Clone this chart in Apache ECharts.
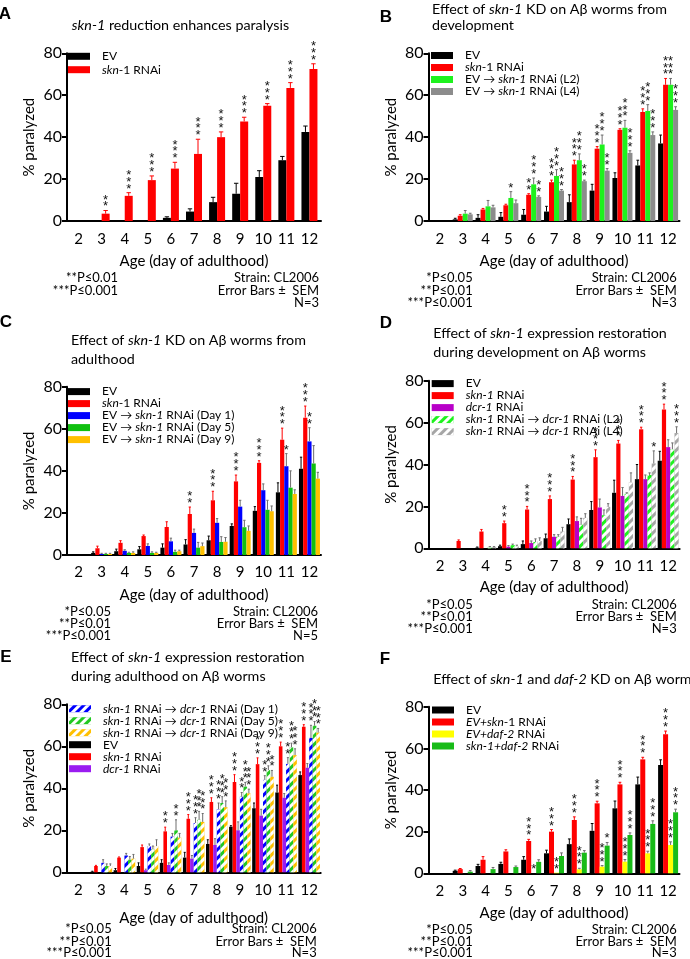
<!DOCTYPE html>
<html><head><meta charset="utf-8">
<script src="https://cdn.jsdelivr.net/npm/echarts@6/dist/echarts.min.js"></script>
<style>html,body{margin:0;padding:0;background:#fff}#c{width:690px;height:959px}</style>
</head><body><div id="c"></div>
<script>
// ---------- shared ----------
const days = ['2','3','4','5','6','7','8','9','10','11','12'];
const yTickValues = [0, 20, 40, 60, 80];

// ---------- Panel A ----------
const A_EV      = [0, 0, 0.3, 0.3, 1.5, 4.5, 9, 13, 21, 29, 42.5];
const A_EV_err  = [0, 0, 0, 0, 0.5, 1.3, 2.3, 5, 3, 1.8, 2.8];
const A_EV_sig  = [0,0,0,0,0,0,0,0,0,0,0];
const A_skn     = [0, 3.5, 12, 19.5, 25, 32, 40, 47.5, 55, 63.5, 72.5];
const A_skn_err = [0, 1.5, 1.5, 2, 3, 7, 2.5, 2, 1, 2.5, 2.5];
const A_skn_sig = [0, 2, 3, 3, 3, 3, 3, 3, 3, 3, 3];

// ---------- Panel B ----------
const B_EV      = [0, 0.8, 1.5, 2, 3, 4.5, 9, 14.5, 20.5, 26.5, 37];
const B_EV_err  = [0, 0.5, 1.5, 2, 2.5, 2.5, 3.5, 3, 2.5, 2.5, 4];
const B_EV_sig  = [0,0,0,0,0,0,0,0,0,0,0];
const B_skn     = [0, 2.5, 5.5, 7.5, 12.5, 18.5, 27, 34.5, 43.5, 52, 65];
const B_skn_err = [0, 0.5, 0.5, 0.5, 0.5, 1, 2, 1, 0.5, 1.5, 3];
const B_skn_sig = [0, 0, 0, 0, 2, 3, 3, 3, 3, 3, 3];
const B_L2      = [0, 3.5, 7, 11, 17.5, 21.5, 29, 36.5, 44.5, 52.5, 65];
const B_L2_err  = [0, 1.5, 2.8, 3, 3, 3, 3, 4.5, 3.5, 3, 3];
const B_L2_sig  = [0, 0, 0, 1, 3, 3, 3, 3, 3, 3, 3];
const B_L4      = [0, 3.2, 6.5, 8.5, 11.5, 14.5, 19, 24, 32.5, 41, 53];
const B_L4_err  = [0, 0.5, 1, 1.5, 0.5, 0.5, 0.5, 1, 1, 1.5, 1.5];
const B_L4_sig  = [0, 0, 0, 0, 2, 3, 2, 2, 3, 3, 3];

// ---------- Panel C ----------
const C_EV      = [0, 1, 1.8, 2.7, 3.5, 5, 7, 13.8, 21, 29.8, 41];
const C_EV_err  = [0, 0.5, 1, 1.3, 1.8, 2.3, 2, 1, 2, 4.5, 5.5];
const C_EV_sig  = [0,0,0,0,0,0,0,0,0,0,0];
const C_skn     = [0, 3.2, 5.8, 9, 13.3, 19.5, 26, 35, 43.8, 54.8, 65.3];
const C_skn_err = [0, 1, 1, 0.5, 2.5, 3.3, 4.3, 3, 1, 5.5, 5.5];
const C_skn_sig = [0, 0, 0, 0, 0, 2, 3, 3, 3, 3, 3];
const C_d1      = [0, 0.5, 2, 4.3, 6.5, 10.5, 15.3, 23, 30.8, 42.2, 54];
const C_d1_err  = [0, 0.3, 0.5, 1, 1.5, 1.8, 2, 3, 3, 6, 6.5];
const C_d1_sig  = [0, 0, 0, 0, 0, 0, 0, 0, 0, 1, 2];
const C_d5      = [0, 0.5, 1, 1, 1.5, 3.5, 6.2, 13.2, 21.5, 32, 43.5];
const C_d5_err  = [0, 0.3, 0.3, 0.5, 0.8, 2.5, 2.5, 3.3, 4.5, 8, 8.5];
const C_d5_sig  = [0,0,0,0,0,0,0,0,0,0,0];
const C_d9      = [0, 0.5, 1, 1, 1.8, 4.2, 6.3, 11.5, 20.8, 29, 36.3];
const C_d9_err  = [0, 0.3, 0.5, 0.3, 0.5, 1.5, 2, 2.3, 2.5, 2, 3];
const C_d9_sig  = [0,0,0,0,0,0,0,0,0,0,0];

// ---------- Panel D ----------
const D_EV      = [0, 0, 0.3, 1, 2, 4.8, 11.5, 18.3, 26.5, 33, 41.8];
const D_EV_err  = [0, 0, 0.3, 0.5, 1.5, 2, 2.5, 4, 6, 7, 4.5];
const D_EV_sig  = [0,0,0,0,0,0,0,0,0,0,0];
const D_skn     = [0, 3.5, 8, 12, 18.5, 23.5, 32.8, 43.5, 50, 56.8, 66.3];
const D_skn_err = [0, 0.5, 1, 1, 1.5, 1.5, 1.5, 3.5, 1.5, 1, 2.5];
const D_skn_sig = [0, 0, 0, 2, 3, 3, 3, 3, 3, 3, 3];
const D_dcr     = [0, 0, 0, 0.8, 2.5, 5.5, 13, 19.5, 25, 33, 48.3];
const D_dcr_err = [0, 0, 0, 0.5, 1, 1, 2, 4, 4, 2, 3.5];
const D_dcr_sig = [0,0,0,0,0,0,0,0,0,0,0];
const D_L2      = [0, 0, 0.5, 1.5, 3, 5.5, 11.3, 15.8, 26, 35, 47.3];
const D_L2_err  = [0, 0, 0.3, 0.5, 1.5, 1, 3, 2.5, 0.5, 1, 3];
const D_L2_sig  = [0,0,0,0,0,0,0,0,0,0,0];
const D_L4      = [0, 0, 0.5, 1, 3.5, 8, 14.5, 19.8, 31.5, 40.5, 55];
const D_L4_err  = [0, 0, 0.3, 0.5, 1.5, 2, 2, 1.5, 4.5, 6, 3];
const D_L4_sig  = [0, 0, 0, 0, 0, 0, 0, 0, 0, 1, 3];

// ---------- Panel E ----------
const E_EV      = [0, 0.3, 1, 3, 4.5, 7, 13.5, 21.7, 30.5, 38, 46.3];
const E_EV_err  = [0, 0.2, 0.8, 1.5, 1.5, 2.5, 2, 0.5, 2.5, 3.5, 1.5];
const E_EV_sig  = [0,0,0,0,0,0,0,0,0,0,0];
const E_skn     = [0, 3, 7, 12, 19.5, 25.5, 33.5, 43, 51.5, 60, 69.3];
const E_skn_err = [0, 0.3, 0.3, 1, 2, 2, 2, 3.5, 3, 2, 1];
const E_skn_sig = [0, 0, 0, 0, 2, 3, 3, 3, 3, 3, 3];
const E_dcr     = [0, 0, 0, 1, 3.5, 6.5, 13, 20, 27, 35.5, 49.8];
const E_dcr_err = [0, 0, 0, 0.5, 1, 1.5, 3, 4, 3, 2, 2];
const E_dcr_sig = [0,0,0,0,0,0,0,0,0,0,0];
const E_d1      = [0, 4.5, 8, 12.5, 17, 23.5, 30, 36, 44, 51.6, 64];
const E_d1_err  = [0, 1.5, 1, 1, 1.5, 2.5, 3, 2, 2, 3, 6];
const E_d1_sig  = [0, 0, 0, 0, 0, 3, 3, 2, 2, 2, 3];
const E_d5      = [0, 3, 6, 11, 20, 25, 33, 40.8, 48.7, 59.5, 69.8];
const E_d5_err  = [0, 1, 1.5, 1.5, 5, 4, 3, 2, 2, 2, 2];
const E_d5_sig  = [0, 0, 0, 0, 2, 3, 3, 3, 3, 3, 3];
const E_d9      = [0, 3, 6.5, 12.5, 16.5, 24, 31, 37.6, 45.5, 55.8, 66.5];
const E_d9_err  = [0, 1, 2, 3, 2, 4, 3, 2, 3, 3, 2];
const E_d9_sig  = [0, 0, 0, 0, 0, 3, 3, 3, 2, 3, 3];

// ---------- Panel F ----------
const F_EV      = [0, 1.2, 3.5, 4.5, 6.5, 9.6, 14, 20.4, 31.2, 42.7, 52];
const F_EV_err  = [0, 0.3, 0.8, 0.8, 1.5, 1.5, 2.5, 3.5, 3.5, 3.5, 2.5];
const F_EV_sig  = [0,0,0,0,0,0,0,0,0,0,0];
const F_skn     = [0, 2, 6.5, 10.5, 15.5, 20, 25.6, 33.6, 42.7, 54.7, 66.8];
const F_skn_err = [0, 0.3, 1.5, 0.8, 0.8, 1, 1.5, 1, 1, 1, 1.5];
const F_skn_sig = [0, 0, 0, 0, 3, 3, 3, 3, 3, 3, 3];
const F_daf     = [0, 0, 0, 0, 0, 0.3, 1.9, 3.2, 5.6, 9.6, 13.6];
const F_daf_err = [0, 0, 0, 0, 0, 0, 0.5, 0.5, 1, 1, 1.5];
const F_daf_sig = [0, 0, 0, 0, 1, 2, 3, 3, 3, 3, 3];
const F_both    = [0, 0.8, 2, 3, 5.5, 8.3, 9.9, 13.3, 18.4, 23.7, 29.3];
const F_both_err= [0, 0.5, 0.8, 0.5, 1, 1.5, 1, 1.5, 1, 1.5, 1.5];
const F_both_sig= [0, 0, 0, 0, 0, 0, 0, 1, 3, 3, 3];

// ---------- styling ----------
const FF = "Lato, 'Noto Sans', 'DejaVu Sans', sans-serif";
const hatch = { symbol: 'rect', symbolSize: 1, dashArrayX: [1, 0], dashArrayY: [2.4, 2.4], rotation: -Math.PI / 4, color: '#ffffff' };
const GRAYERR = '#6e6e6e';
const TITLE_FS = 14.3, LEG_FS = 12, FOOT_FS = 13;

const panels = [
  { grid: {left: 67, top: 53.3, width: 254, height: 167.7}, barW: 8, lab: 11, nameGap: 33,
    legend: {left: 68, top: 49.6, pitch: 13.4},
    series: [
      {id:'A_EV', label:'{sp|}EV', color:'#000000', ec:'#000000', d:A_EV, e:A_EV_err, s:A_EV_sig},
      {id:'A_skn', label:'{sp|}{i|skn}-1 RNAi', color:'#ff0000', ec:'#ff0000', d:A_skn, e:A_skn_err, s:A_skn_sig}
    ]},
  { grid: {left: 428.5, top: 53.3, width: 251, height: 167.7}, barW: 5, lab: 11, nameGap: 33,
    legend: {left: 431, top: 49.5, pitch: 11},
    series: [
      {id:'B_EV', label:'{sp|}EV', color:'#000000', ec:'#000000', d:B_EV, e:B_EV_err, s:B_EV_sig},
      {id:'B_skn', label:'{sp|}{i|skn}-1 RNAi', color:'#ff0000', ec:'#ff0000', d:B_skn, e:B_skn_err, s:B_skn_sig},
      {id:'B_L2', label:'{sp|}EV → {i|skn-1} RNAi (L2)', color:'#1ef21e', ec:GRAYERR, d:B_L2, e:B_L2_err, s:B_L2_sig},
      {id:'B_L4', label:'{sp|}EV → {i|skn-1} RNAi (L4)', color:'#8c8c8c', ec:GRAYERR, d:B_L4, e:B_L4_err, s:B_L4_sig}
    ]},
  { grid: {left: 67, top: 386.7, width: 254, height: 168.3}, barW: 4.2, lab: 10, nameGap: 32.5,
    legend: {left: 68, top: 385.6, pitch: 10.1},
    series: [
      {id:'C_EV', label:'{sp|}EV', color:'#000000', ec:'#000000', d:C_EV, e:C_EV_err, s:C_EV_sig},
      {id:'C_skn', label:'{sp|}{i|skn}-1 RNAi', color:'#ff0000', ec:'#ff0000', d:C_skn, e:C_skn_err, s:C_skn_sig},
      {id:'C_d1', label:'{sp|}EV → {i|skn-1} RNAi (Day 1)', color:'#0000ff', ec:GRAYERR, d:C_d1, e:C_d1_err, s:C_d1_sig},
      {id:'C_d5', label:'{sp|}EV → {i|skn-1} RNAi (Day 5)', color:'#10c010', ec:GRAYERR, d:C_d5, e:C_d5_err, s:C_d5_sig},
      {id:'C_d9', label:'{sp|}EV → {i|skn-1} RNAi (Day 9)', color:'#ffc000', ec:GRAYERR, d:C_d9, e:C_d9_err, s:C_d9_sig}
    ]},
  { grid: {left: 428.6, top: 380.7, width: 251, height: 167.6}, barW: 4.2, lab: 10, nameGap: 31,
    legend: {left: 431.7, top: 377.6, pitch: 9.4},
    series: [
      {id:'D_EV', label:'{sp|}EV', color:'#000000', ec:'#000000', d:D_EV, e:D_EV_err, s:D_EV_sig},
      {id:'D_skn', label:'{sp|}{i|skn-1} RNAi', color:'#ff0000', ec:'#ff0000', d:D_skn, e:D_skn_err, s:D_skn_sig},
      {id:'D_dcr', label:'{sp|}{i|dcr-1} RNAi', color:'#b800c8', ec:GRAYERR, d:D_dcr, e:D_dcr_err, s:D_dcr_sig},
      {id:'D_L2', label:'{sp|}{i|skn-1} RNAi → {i|dcr-1} RNAi (L2)', color:'#1ef21e', decal:hatch, ec:GRAYERR, d:D_L2, e:D_L2_err, s:D_L2_sig},
      {id:'D_L4', label:'{sp|}{i|skn-1} RNAi → {i|dcr-1} RNAi (L4)', color:'#a6a6a6', decal:hatch, ec:GRAYERR, d:D_L4, e:D_L4_err, s:D_L4_sig}
    ]},
  { grid: {left: 66.7, top: 704.3, width: 254, height: 168}, barW: 3.6, lab: 10, nameGap: 38,
    legend: {left: 69, top: 702.7, pitch: 10},
    legendOrder: ['E_d1','E_d5','E_d9','E_EV','E_skn','E_dcr'],
    series: [
      {id:'E_EV', label:'{sp|}EV', color:'#000000', ec:'#000000', d:E_EV, e:E_EV_err, s:E_EV_sig},
      {id:'E_skn', label:'{sp|}{i|skn-1} RNAi', color:'#ff0000', ec:'#ff0000', d:E_skn, e:E_skn_err, s:E_skn_sig},
      {id:'E_dcr', label:'{sp|}{i|dcr-1} RNAi', color:'#9a1cf0', ec:GRAYERR, d:E_dcr, e:E_dcr_err, s:E_dcr_sig},
      {id:'E_d1', label:'{sp|}{i|skn-1} RNAi → {i|dcr-1} RNAi (Day 1)', color:'#0000ff', decal:hatch, ec:GRAYERR, d:E_d1, e:E_d1_err, s:E_d1_sig},
      {id:'E_d5', label:'{sp|}{i|skn-1} RNAi → {i|dcr-1} RNAi (Day 5)', color:'#22c822', decal:hatch, ec:GRAYERR, d:E_d5, e:E_d5_err, s:E_d5_sig},
      {id:'E_d9', label:'{sp|}{i|skn-1} RNAi → {i|dcr-1} RNAi (Day 9)', color:'#ffc000', decal:hatch, ec:GRAYERR, d:E_d9, e:E_d9_err, s:E_d9_sig}
    ]},
  { grid: {left: 428.5, top: 706.7, width: 251, height: 166.6}, barW: 5, lab: 10, nameGap: 32.5,
    legend: {left: 432, top: 704, pitch: 10.1},
    series: [
      {id:'F_EV', label:'{sp|}EV', color:'#000000', ec:'#000000', d:F_EV, e:F_EV_err, s:F_EV_sig},
      {id:'F_skn', label:'{sp|}{i|EV+skn}-1 RNAi', color:'#ff0000', ec:'#ff0000', d:F_skn, e:F_skn_err, s:F_skn_sig},
      {id:'F_daf', label:'{sp|}{i|EV+daf-2} RNAi', color:'#ffff00', ec:GRAYERR, d:F_daf, e:F_daf_err, s:F_daf_sig},
      {id:'F_both', label:'{sp|}{i|skn-1+daf-2} RNAi', color:'#18bb18', ec:GRAYERR, d:F_both, e:F_both_err, s:F_both_sig}
    ]}
];

const labelMap = {};
panels.forEach(p => p.series.forEach(s => { labelMap[s.id] = s.label; }));

function makeRender(n, idx, barW, ec) {
  return function (params, api) {
    const cat = api.value(0), v = api.value(1), e = api.value(2), s = api.value(3);
    const base = api.coord([cat, v]);
    const top = api.coord([cat, v + e]);
    const cx = base[0] - n * barW / 2 + idx * barW + barW / 2;
    const children = [];
    if (e > 0) {
      const cw = Math.max(2, barW * 0.55);
      children.push({ type: 'line', shape: { x1: cx, y1: base[1], x2: cx, y2: top[1] }, style: { stroke: ec, lineWidth: 1 } });
      children.push({ type: 'line', shape: { x1: cx - cw / 2, y1: top[1], x2: cx + cw / 2, y2: top[1] }, style: { stroke: ec, lineWidth: 1 } });
    }
    for (let k = 0; k < s; k++) {
      children.push({ type: 'text', x: cx, y: top[1] - 3.6 - k * 6.8,
        style: { text: '*', fill: '#111', font: "13px 'Liberation Sans', Arial, sans-serif", align: 'center', verticalAlign: 'middle' } });
    }
    return { type: 'group', children };
  };
}

const option = { animation: false, grid: [], xAxis: [], yAxis: [], series: [], legend: [], graphic: [] };

panels.forEach((p, i) => {
  option.grid.push(Object.assign({ containLabel: false }, p.grid));
  option.xAxis.push({
    type: 'category', gridIndex: i, data: days,
    axisLine: { lineStyle: { color: '#000', width: 2 } },
    axisTick: { alignWithLabel: true, interval: 0, length: 4, lineStyle: { color: '#000', width: 1.5 } },
    axisLabel: { interval: 0, color: '#000', fontSize: 15, fontFamily: FF, margin: p.lab },
    name: 'Age (day of adulthood)', nameLocation: 'middle', nameGap: p.nameGap,
    nameTextStyle: { color: '#000', fontSize: 15, fontFamily: FF }
  });
  option.yAxis.push({
    type: 'value', gridIndex: i, min: yTickValues[0], max: yTickValues[yTickValues.length - 1],
    interval: yTickValues[1] - yTickValues[0], splitLine: { show: false },
    axisLine: { show: true, lineStyle: { color: '#000', width: 2 } },
    axisTick: { show: true, length: 5, lineStyle: { color: '#000', width: 2 } },
    axisLabel: { color: '#000', fontSize: 16, fontFamily: FF, margin: 5 },
    name: '% paralyzed', nameLocation: 'middle', nameGap: 30, nameRotate: 90,
    nameTextStyle: { color: '#000', fontSize: 15, fontFamily: FF }
  });
  const n = p.series.length;
  p.series.forEach((s, j) => {
    option.series.push({
      type: 'bar', name: s.id, xAxisIndex: i, yAxisIndex: i, data: s.d,
      barWidth: p.barW, barGap: '0%', silent: true,
      itemStyle: s.decal ? { color: s.color, decal: s.decal } : { color: s.color }
    });
  });
  p.series.forEach((s, j) => {
    option.series.push({
      type: 'custom', xAxisIndex: i, yAxisIndex: i, z: 5, silent: true, clip: false,
      renderItem: makeRender(n, j, p.barW, s.ec),
      encode: { x: 0, y: 1 },
      data: days.map((d, k) => [k, s.d[k], s.e[k], s.s[k]])
    });
  });
  const pitch = p.legend.pitch;
  option.legend.push({
    data: p.legendOrder || p.series.map(s => s.id), orient: 'vertical',
    left: p.legend.left, top: p.legend.top, itemWidth: 22, itemHeight: 7, itemGap: 0,
    icon: 'rect', selectedMode: false, padding: 0,
    formatter: name => labelMap[name],
    textStyle: { color: '#000', fontSize: LEG_FS, fontFamily: FF, lineHeight: pitch,
      rich: { i: { fontStyle: 'italic', fontSize: LEG_FS, fontFamily: FF, lineHeight: pitch, color: '#000' }, sp: { width: 7 } } }
  });
});

// text helpers
const italic = { i: { fontStyle: 'italic', fontFamily: FF, fontSize: TITLE_FS, fill: '#000' } };
function txt(x, y, text, size, align, bold, rich) {
  return { type: 'text', x, y, silent: true, style: { text, fill: '#000', fontFamily: bold ? "'Liberation Sans', Arial, sans-serif" : FF,
    fontSize: size, fontWeight: bold ? 'bold' : 'normal', align: align || 'left', verticalAlign: 'middle', rich } };
}
const G = option.graphic;
// panel letters
G.push(txt(5, 14, 'A', 17, 'center', true));
G.push(txt(386, 17, 'B', 17, 'center', true));
G.push(txt(6, 322, 'C', 17, 'center', true));
G.push(txt(386, 323, 'D', 17, 'center', true));
G.push(txt(6, 657, 'E', 17, 'center', true));
G.push(txt(385, 659, 'F', 17, 'center', true));
// titles
G.push(txt(180.5, 25, '{i|skn-1} reduction enhances paralysis', TITLE_FS, 'center', false, italic));
G.push(txt(432, 9.5, 'Effect of {i|skn-1} KD on Aβ worms from', TITLE_FS, 'left', false, italic));
G.push(txt(432, 25.5, 'development', TITLE_FS, 'left', false, italic));
G.push(txt(71, 340.7, 'Effect of {i|skn-1} KD on Aβ worms from', TITLE_FS, 'left', false, italic));
G.push(txt(71, 359.3, 'adulthood', TITLE_FS, 'left', false, italic));
G.push(txt(433.3, 333.3, 'Effect of {i|skn-1} expression restoration', TITLE_FS, 'left', false, italic));
G.push(txt(433.3, 352.7, 'during development on Aβ worms', TITLE_FS, 'left', false, italic));
G.push(txt(71, 657.3, 'Effect of {i|skn-1} expression restoration', TITLE_FS, 'left', false, italic));
G.push(txt(71, 676.7, 'during adulthood on Aβ worms', TITLE_FS, 'left', false, italic));
G.push(txt(433.3, 679.3, 'Effect of {i|skn-1} and {i|daf-2} KD on Aβ worms', TITLE_FS, 'left', false, italic));
// footnotes
function foot(lx, rx, ys, left, right) {
  left.forEach((t, k) => G.push(txt(lx, ys[k], t, FOOT_FS, 'right')));
  right.forEach((t, k) => G.push(txt(rx, ys[k], t, FOOT_FS, 'right')));
}
const R3 = ['Strain: CL2006', 'Error Bars ±  SEM', 'N=3'];
const R5 = ['Strain: CL2006', 'Error Bars ±  SEM', 'N=5'];
const L3 = ['*P≤0.05', '**P≤0.01', '***P≤0.001'];
foot(118, 319, [278.3, 291, 303.3], ['**P≤0.01', '***P≤0.001'], R3);
foot(472.7, 676.7, [278.3, 290.7, 302.7], L3, R3);
foot(111, 318, [612, 624, 636], L3, R5);
foot(472.7, 676.7, [605, 616.7, 629.3], L3, R3);
foot(111.7, 316.7, [929.3, 941.7, 953.3], L3, R3);
foot(472.7, 676.7, [930, 941.7, 953.3], L3, R3);

const chart = echarts.init(document.getElementById('c'), null, { renderer: 'canvas' });
chart.setOption(option);
</script></body></html>
